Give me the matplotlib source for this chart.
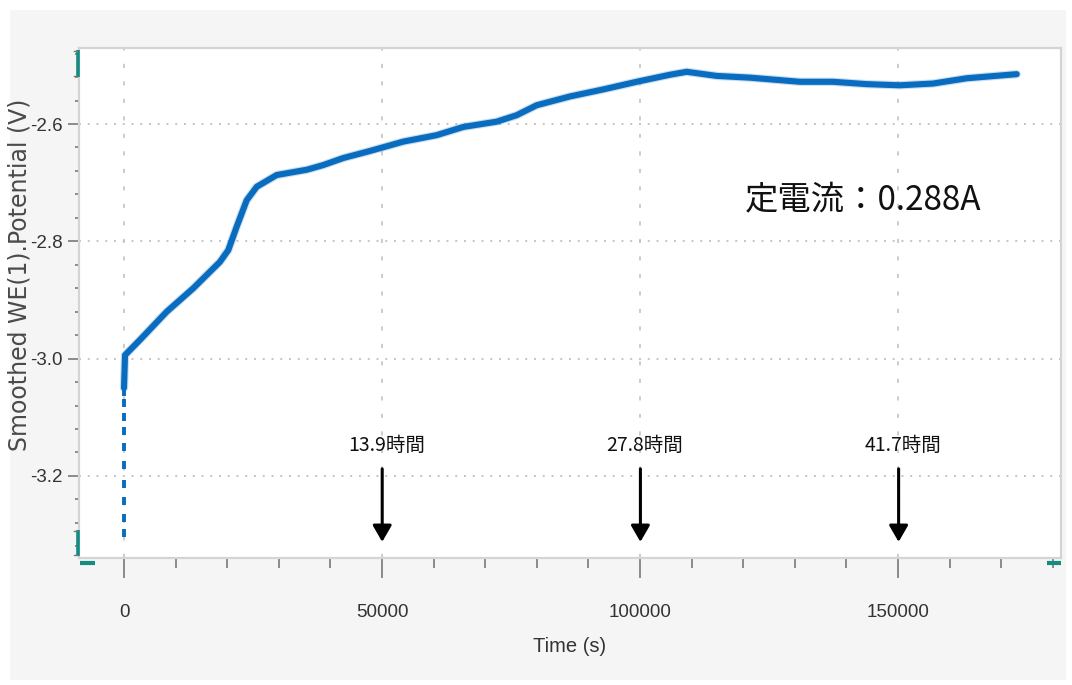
import matplotlib
matplotlib.use("Agg")
import matplotlib.pyplot as plt
import matplotlib.transforms as mtransforms
from matplotlib import font_manager
from matplotlib.patches import Rectangle
from matplotlib.lines import Line2D
from matplotlib.ticker import MultipleLocator, FixedLocator, FuncFormatter

# ---- data -------------------------------------------------------------
time_s = [0, 200, 3100, 8280, 13430, 18600, 20210, 21840, 23780, 25720,
          29590, 35410, 38620, 42500, 47670, 54130, 60600, 65760, 72230,
          76100, 79980, 86430, 92890, 99360, 105810, 109050, 114860,
          121320, 131010, 137400, 143930, 150330, 156790, 163320, 173010]
potential_v = [-3.050, -2.994, -2.968, -2.920, -2.880, -2.835, -2.815,
               -2.775, -2.730, -2.707, -2.687, -2.678, -2.670, -2.658,
               -2.646, -2.630, -2.619, -2.605, -2.596, -2.585, -2.568,
               -2.553, -2.541, -2.528, -2.516, -2.511, -2.518, -2.521,
               -2.528, -2.528, -2.532, -2.534, -2.531, -2.522, -2.515]
# sparse readings logged right at switch-on
initial_potential_v = [-3.057, -3.076, -3.100, -3.123, -3.151, -3.182,
                       -3.213, -3.243, -3.272, -3.298]

marker_hours = [13.9, 27.8, 41.7]
x_ticks = [0, 50000, 100000, 150000]
y_ticks = [-3.2, -3.0, -2.8, -2.6]
current_label = "定電流：0.288A"
x_label = "Time (s)"
y_label = "Smoothed WE(1).Potential (V)"

# ---- fonts ------------------------------------------------------------
available = {f.name for f in font_manager.fontManager.ttflist}
narrow = "Liberation Sans Narrow" if "Liberation Sans Narrow" in available else "Liberation Sans"
cjk = ["Noto Sans CJK JP", "DejaVu Sans"]

W, H = 1072, 685
fig = plt.figure(figsize=(W / 100, H / 100), dpi=100)
fig.patch.set_facecolor("white")

# grey panel behind the chart
fig.add_artist(Rectangle((10 / W, 1 - 680 / H), (1066 - 10) / W, (680 - 10) / H,
                         transform=fig.transFigure, facecolor="#f5f5f5",
                         edgecolor="none", zorder=-10))

ax_l, ax_r, ax_t, ax_b = 79, 1061, 48, 558
ax = fig.add_axes([ax_l / W, 1 - ax_b / H, (ax_r - ax_l) / W, (ax_b - ax_t) / H])
ax.set_facecolor("white")

ax.set_xlim(-8721, 181590)
ax.set_ylim(-3.340, -2.4704)

# grid
for xv in x_ticks:
    ax.axvline(xv, color="#c4c4c4", lw=1.2, dashes=(2.5, 8), zorder=0)
for yv in y_ticks:
    ax.axhline(yv, color="#c4c4c4", lw=1.4, dashes=(1, 3.5), zorder=0)

# potential trace
blue = "#0a6cbf"
ax.plot(time_s, potential_v, color=blue, lw=6.0, alpha=0.22,
        solid_capstyle="round", solid_joinstyle="round", zorder=3)
ax.plot(time_s, potential_v, color=blue, lw=4.4,
        solid_capstyle="round", solid_joinstyle="round", zorder=4)
ax.plot([0] * len(initial_potential_v), initial_potential_v, linestyle="none",
        marker="|", markersize=5.2, markeredgewidth=2.8, color=blue, zorder=4)

# spines
for s in ax.spines.values():
    s.set_color("#d4d4d4")
    s.set_linewidth(1.6)

# ticks
ax.xaxis.set_major_locator(FixedLocator(x_ticks))
ax.xaxis.set_minor_locator(MultipleLocator(10000))
ax.yaxis.set_major_locator(FixedLocator(y_ticks))
ax.yaxis.set_minor_locator(MultipleLocator(0.04))
ax.xaxis.set_major_formatter(FuncFormatter(lambda v, p: f"{v:.0f}"))
ax.yaxis.set_major_formatter(FuncFormatter(lambda v, p: f"{v:.1f}"))

ax.tick_params(axis="x", which="major", direction="out", length=14.4, width=1.1,
               color="#6e6e6e", pad=19, labelsize=13.5, labelcolor="#333333")
ax.tick_params(axis="x", which="minor", direction="out", length=7.2, width=1.1,
               color="#6e6e6e")
ax.tick_params(axis="y", which="major", direction="out", length=8, width=1.1,
               color="#6e6e6e", pad=3.5, labelsize=13.5, labelcolor="#333333")
ax.tick_params(axis="y", which="minor", direction="out", length=3, width=1.1,
               color="#6e6e6e")
for lbl in ax.get_xticklabels() + ax.get_yticklabels():
    lbl.set_family(narrow)

ax.set_xlabel(x_label, family=narrow, fontsize=14.5, color="#333333", labelpad=11)
fig.text(20 / W, 1 - 275 / H, y_label, rotation=90, ha="center", va="center",
         fontsize=17, color="#4a4a4a", family="DejaVu Sans")

# elapsed-time markers
txt_shift = mtransforms.offset_copy(ax.transData, fig=fig, x=4, y=0, units="dots")
for h in marker_hours:
    t = h * 3600
    ax.annotate("", xy=(t, -3.3125), xytext=(t, -3.188),
                arrowprops=dict(arrowstyle="-|>,head_length=0.45,head_width=0.26",
                                color="black", lw=2.2, mutation_scale=22,
                                shrinkA=0, shrinkB=0), zorder=6)
    ax.text(t, -3.149, f"{h}時間", transform=txt_shift, ha="center", va="center",
            fontsize=14, family=cjk, color="#111111", zorder=6)

ax.text(120350, -2.7296, current_label, ha="left", va="center", fontsize=24,
        family=cjk, color="#111111", zorder=6)

# range handles on the axes
teal = "#158c82"
def px_line(x0, y0, x1, y1, **kw):
    fig.add_artist(Line2D([x0 / W, x1 / W], [1 - y0 / H, 1 - y1 / H],
                          transform=fig.transFigure, **kw))

px_line(78, 50, 78, 77, color=teal, lw=2.6, solid_capstyle="butt", zorder=8)
px_line(78, 530, 78, 556, color=teal, lw=2.6, solid_capstyle="butt", zorder=8)
for yy in (51, 76, 531, 555):
    px_line(74, yy, 77, yy, color="#777777", lw=1.0, zorder=8)
px_line(80, 563, 95, 563, color=teal, lw=3.0, solid_capstyle="butt", zorder=8)
px_line(1047, 563, 1061, 563, color=teal, lw=3.0, solid_capstyle="butt", zorder=8)

fig.savefig("out.png", dpi=100)
